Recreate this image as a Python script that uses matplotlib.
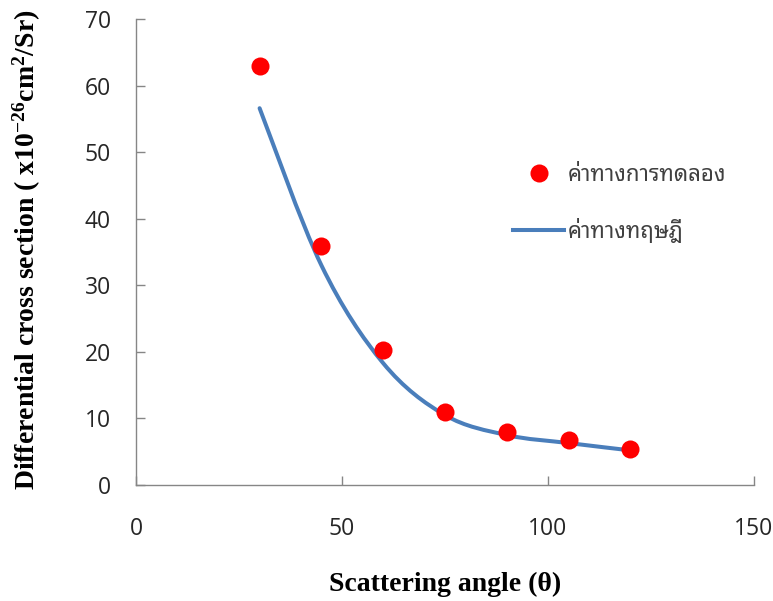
import matplotlib
matplotlib.use("Agg")
import matplotlib.pyplot as plt
import numpy as np
from matplotlib.path import Path
from matplotlib.patches import PathPatch
from matplotlib.lines import Line2D

# ---- data ----
angles = [30, 45, 60, 75, 90, 105, 120]
experimental = [63.0, 35.9, 20.3, 11.0, 7.9, 6.8, 5.4]
theoretical = [56.6, 33.0, 18.3, 10.5, 7.5, 6.3, 5.2]
x_ticks = [0, 50, 100, 150]
y_ticks = [0, 10, 20, 30, 40, 50, 60, 70]
label_exp = "ค่าทางการทดลอง"
label_theory = "ค่าทางทฤษฎี"
xlabel = "Scattering angle (θ)"
ylabel = r"Differential cross section ( x10$^{\mathbf{-26}}$cm$^{\mathbf{2}}$/Sr)"

plt.rcParams['mathtext.fontset'] = 'custom'
plt.rcParams['mathtext.rm'] = 'Liberation Serif'
plt.rcParams['mathtext.bf'] = 'Liberation Serif:bold'
plt.rcParams['mathtext.it'] = 'Liberation Serif:italic'

W, H = 773, 601
fig = plt.figure(figsize=(W / 100, H / 100), dpi=100)
ax = fig.add_axes([136 / W, 1 - 485 / H, (754 - 136) / W, (485 - 19) / H])

line_color = "#4a7ebb"
axis_color = "#868686"
text_color = "#262626"


def smooth_path(xs, ys):
    pts = np.column_stack([xs, ys]).astype(float)
    n = len(pts)
    verts = [pts[0]]
    codes = [Path.MOVETO]
    for i in range(n - 1):
        p0 = pts[i - 1] if i > 0 else pts[i]
        p1 = pts[i]
        p2 = pts[i + 1]
        p3 = pts[i + 2] if i + 2 < n else pts[i + 1]
        c1 = p1 + (p2 - p0) / 6.0
        c2 = p2 - (p3 - p1) / 6.0
        verts += [c1, c2, p2]
        codes += [Path.CURVE4] * 3
    return Path(verts, codes)


patch = PathPatch(smooth_path(angles, theoretical), fill=False, edgecolor=line_color,
                  lw=2.9, capstyle='round', joinstyle='round', zorder=2)
ax.add_patch(patch)
ax.plot(angles, experimental, linestyle='none', marker='o', markersize=13,
        color='#ff0000', markeredgewidth=0, zorder=3)

ax.set_xlim(0, 150)
ax.set_ylim(0, 70)
ax.set_xticks(x_ticks)
ax.set_yticks(y_ticks)
ax.spines['top'].set_visible(False)
ax.spines['right'].set_visible(False)
for s in ('left', 'bottom'):
    ax.spines[s].set_color(axis_color)
    ax.spines[s].set_linewidth(1.0)
ax.tick_params(axis='both', direction='in', length=6.5, width=1, color=axis_color,
               labelcolor=text_color, labelsize=16.5)
ax.tick_params(axis='x', pad=23)
ax.tick_params(axis='y', pad=18)
for lab in ax.get_xticklabels() + ax.get_yticklabels():
    lab.set_fontfamily('Open Sans')

fig.text(445 / W, 1 - 584 / H, xlabel, ha='center', va='center',
         fontfamily='Liberation Serif', fontweight='bold', fontsize=20, color='black')
fig.text(27 / W, 1 - 250 / H, ylabel, ha='center', va='center', rotation=90,
         fontfamily='Liberation Serif', fontweight='bold', fontsize=20, color='black')

h_exp = Line2D([], [], linestyle='none', marker='o', markersize=13, color='#ff0000',
               markeredgewidth=0)
h_th = Line2D([], [], color=line_color, lw=2.9)
leg = ax.legend([h_exp, h_th], [label_exp, label_theory], loc='upper left',
                bbox_to_anchor=(513 / W, 1 - 165 / H), bbox_transform=fig.transFigure,
                frameon=False, borderpad=0, borderaxespad=0, handlelength=2.3,
                handletextpad=0.15, labelspacing=1.45,
                prop={'family': ['Noto Sans Thai Looped', 'DejaVu Sans'], 'size': 16})
for t in leg.get_texts():
    t.set_color('#404040')

fig.savefig("out.png", dpi=100)
